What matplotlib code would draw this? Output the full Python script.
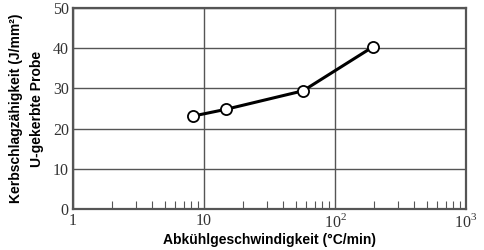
import matplotlib
matplotlib.use("Agg")
import matplotlib.pyplot as plt
from matplotlib.ticker import FixedLocator, LogLocator, NullFormatter

# Abkühlgeschwindigkeit (°C/min) vs. Kerbschlagzähigkeit (J/mm²)
rate = [8.2, 14.7, 57, 196]
toughness = [23.1, 24.8, 29.4, 40.4]

xticks = [1, 10, 100, 1000]
xticklabels = ["1", "10", "10$^{2}$", "10$^{3}$"]
yticks = [0, 10, 20, 30, 40, 50]

plt.rcParams["mathtext.fontset"] = "custom"
plt.rcParams["mathtext.rm"] = "Liberation Serif"

fig = plt.figure(figsize=(4.85, 2.5), dpi=100)
ax = fig.add_axes([0.1505, 0.164, 0.8105, 0.804])

ax.plot(rate, toughness, color="black", lw=2.2, marker="o", ms=8,
        mfc="white", mec="black", mew=1.3, zorder=3)

ax.set_xscale("log")
ax.set_xlim(1, 1000)
ax.set_ylim(0, 50)
ax.xaxis.set_major_locator(FixedLocator(xticks))
ax.set_xticks(xticks)
ax.set_xticklabels(xticklabels)
ax.xaxis.set_minor_locator(LogLocator(base=10, subs=range(2, 10)))
ax.xaxis.set_minor_formatter(NullFormatter())
ax.set_yticks(yticks)

ax.grid(True, which="major", color="#555555", lw=1)
ax.tick_params(axis="both", which="major", length=0, pad=3)
ax.tick_params(axis="x", which="minor", direction="in", length=6,
               width=0.8, color="#555555")
for lab in ax.get_xticklabels() + ax.get_yticklabels():
    lab.set_fontfamily("Liberation Serif")
    lab.set_fontsize(11.5)
    lab.set_color("#333333")

for s in ax.spines.values():
    s.set_color("#555555")
    s.set_linewidth(1.6)

ax.set_xlabel("Abkühlgeschwindigkeit (°C/min)", fontsize=10,
              fontweight="bold", family="Liberation Sans", labelpad=1)
ax.set_ylabel("Kerbschlagzähigkeit (J/mm²)\nU-gekerbte Probe", fontsize=10,
              fontweight="bold", family="Liberation Sans", labelpad=6,
              linespacing=1.7)

fig.savefig("out.png", dpi=100)
